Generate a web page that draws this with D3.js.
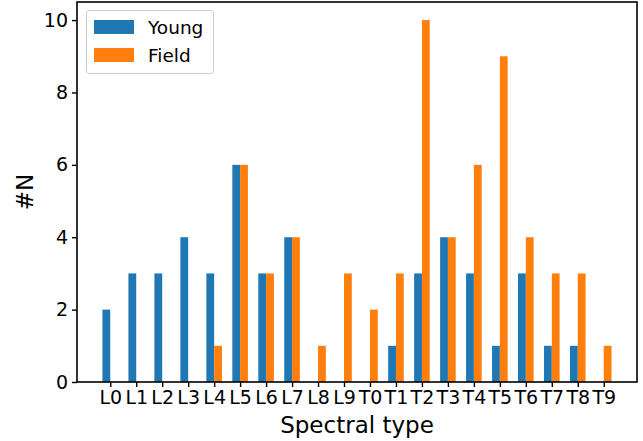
<!DOCTYPE html>
<html>
<head>
<meta charset="utf-8">
<script src="https://cdn.jsdelivr.net/npm/d3@7/dist/d3.min.js"></script>
<style>
  html, body { margin: 0; padding: 0; background: #fff; }
  svg { display: block; font-family: "DejaVu Sans", sans-serif; }
</style>
</head>
<body>
<svg id="chart" width="643" height="441"></svg>
<script>
const categories = ["L0","L1","L2","L3","L4","L5","L6","L7","L8","L9","T0","T1","T2","T3","T4","T5","T6","T7","T8","T9"];
const youngValues = [2,3,3,4,3,6,3,4,0,0,0,1,3,4,3,1,3,1,1,0];
const fieldValues = [0,0,0,0,1,6,3,4,1,3,2,3,10,4,6,9,4,3,3,1];
const yTicks = [0,2,4,6,8,10];
const seriesNames = ["Young","Field"];
const colors = ["#1f77b4","#ff7f0e"];

(function () {
const svg = d3.select("#chart");
const mLeft = 77, mRight = 637, mTop = 2, mBottom = 382;
const barW = 0.3;

const x = d3.scaleLinear().domain([-1.28, categories.length - 1 + 1.28]).range([mLeft, mRight]);
const y = d3.scaleLinear().domain([0, 10.5]).range([mBottom, mTop]);

const series = [
  {name: seriesNames[0], values: youngValues, offset: -barW, color: colors[0]},
  {name: seriesNames[1], values: fieldValues, offset: 0, color: colors[1]}
];

series.forEach(s => {
  svg.append("g").selectAll("rect").data(s.values).join("rect")
    .attr("x", (d, i) => x(i + s.offset))
    .attr("width", (d, i) => x(i + s.offset + barW) - x(i + s.offset))
    .attr("y", d => y(d))
    .attr("height", d => y(0) - y(d))
    .attr("fill", s.color);
});

const xAxis = d3.axisBottom(x)
  .tickValues(d3.range(categories.length))
  .tickFormat(i => categories[i])
  .tickSize(5).tickPadding(4);
const gx = svg.append("g").attr("transform", `translate(0,${mBottom})`).call(xAxis);
gx.select(".domain").remove();
gx.selectAll(".tick line").attr("stroke", "#000").attr("stroke-width", 1.4);
gx.selectAll(".tick text").attr("font-size", 19).attr("fill", "#000")
  .attr("font-family", "DejaVu Sans");

const yAxis = d3.axisLeft(y).tickValues(yTicks).tickSize(5).tickPadding(4);
const gy = svg.append("g").attr("transform", `translate(${mLeft},0)`).call(yAxis);
gy.select(".domain").remove();
gy.selectAll(".tick line").attr("stroke", "#000").attr("stroke-width", 1.4);
gy.selectAll(".tick text").attr("font-size", 19).attr("fill", "#000")
  .attr("font-family", "DejaVu Sans");

svg.append("rect")
  .attr("x", mLeft).attr("y", mTop)
  .attr("width", mRight - mLeft).attr("height", mBottom - mTop)
  .attr("fill", "none").attr("stroke", "#000").attr("stroke-width", 1.6);

svg.append("text")
  .attr("x", (mLeft + mRight) / 2).attr("y", 433)
  .attr("text-anchor", "middle").attr("font-size", 23).attr("fill", "#000")
  .text("Spectral type");
svg.append("text")
  .attr("transform", `translate(33,${(mTop + mBottom) / 2}) rotate(-90)`)
  .attr("text-anchor", "middle").attr("font-size", 23).attr("fill", "#000")
  .text("#N");

const lg = svg.append("g");
lg.append("rect")
  .attr("x", 86.5).attr("y", 10.5).attr("width", 127).attr("height", 63)
  .attr("rx", 3).attr("fill", "#fff").attr("fill-opacity", 0.8)
  .attr("stroke", "#cccccc").attr("stroke-width", 1);
series.forEach((s, i) => {
  const yy = 20 + i * 28;
  lg.append("rect").attr("x", 94).attr("y", yy).attr("width", 40).attr("height", 14).attr("fill", s.color);
  lg.append("text").attr("x", 148).attr("y", yy + 13.5)
    .attr("font-size", 18.5).attr("fill", "#000").text(s.name);
});
})();
</script>
</body>
</html>
